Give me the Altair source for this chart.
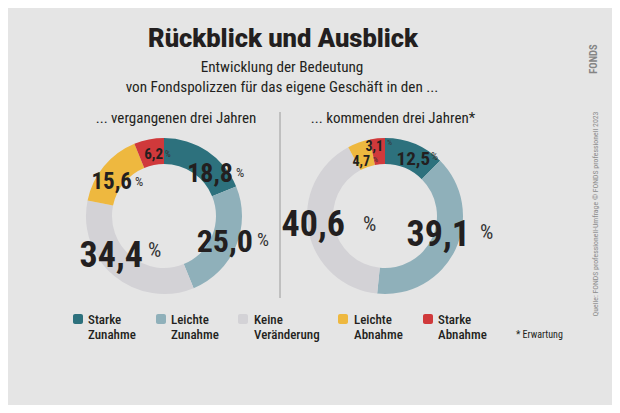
import altair as alt
import pandas as pd

# ---------------- data ----------------
categories = ["Starke Zunahme", "Leichte Zunahme", "Keine Veränderung",
              "Leichte Abnahme", "Starke Abnahme"]
legend_text = ["Starke\nZunahme", "Leichte\nZunahme", "Keine\nVeränderung",
               "Leichte\nAbnahme", "Starke\nAbnahme"]
past_values = [18.8, 25.0, 34.4, 15.6, 6.2]
future_values = [12.5, 39.1, 40.6, 4.7, 3.1]
colors = ["#2d717d", "#8fb0ba", "#d3d2d6", "#eeb83f", "#d0393b"]

title = "Rückblick und Ausblick"
subtitle = ["Entwicklung der Bedeutung",
            "von Fondspolizzen für das eigene Geschäft in den ..."]
panel_titles = ["... vergangenen drei Jahren", "... kommenden drei Jahren*"]
note = "* Erwartung"
source = "Quelle: FONDS professionell-Umfrage © FONDS professionell 2023"
logo = "FONDS"

# ---------------- layout (page pixels) ----------------
M = 8
W, H = 604, 397
BG = "#e5e5e5"
DARK = "#231f20"
NARROW = ("'Noto Sans Condensed', 'Noto Sans ExtraCondensed', 'Roboto Condensed', "
          "'DejaVu Sans Condensed', sans-serif")

centers = [(164, 216), (385, 216)]
inner_r, outer_r = 52, 78

# label layout: number right edge / vertical centre, percent left edge / centre, sizes
past_num = dict(rx=[233, 253, 143, 132, 163], cy=[173, 240, 254, 181, 154],
                fs=[26, 32, 36, 23, 15])
past_pct = dict(lx=[236, 257, 148, 135, 165], my=[173, 240, 251, 182, 154],
                fs=[13, 19, 21, 13, 9])
fut_num = dict(rx=[430, 470, 345, 370, 383], cy=[158, 233, 223, 161, 146],
               fs=[19, 36, 36, 14, 14])
fut_pct = dict(lx=[431, 480, 363, 373, 387], my=[157, 233, 225, 160, 143],
               fs=[11, 21, 21, 8, 8])

leg_sq_x = [73, 156, 238, 338, 423]
leg_tx_x = [88, 171, 254, 354, 438]

xs = alt.Scale(domain=[0, W], range=[0, W], nice=False, zero=False)
ys = alt.Scale(domain=[0, H], range=[0, H], nice=False, zero=False)


def X(f):
    return alt.X(f, type="quantitative", scale=xs, axis=None)


def Y(f):
    return alt.Y(f, type="quantitative", scale=ys, axis=None)


def fmt(v):
    return f"{v:.1f}".replace(".", ",")


layers = []

# donuts
for (cx, cy), vals in zip(centers, [past_values, future_values]):
    d = pd.DataFrame({"cat": categories, "idx": list(range(5)), "value": vals,
                      "cx": cx - M, "cy": cy - M})
    layers.append(
        alt.Chart(d).mark_arc(innerRadius=inner_r, outerRadius=outer_r).encode(
            x=X("cx"), y=Y("cy"),
            theta=alt.Theta("value:Q", stack=True),
            order=alt.Order("idx:Q"),
            color=alt.Color("cat:N", scale=alt.Scale(domain=categories, range=colors),
                            legend=None),
        )
    )

# value labels
for vals, num, pct in [(past_values, past_num, past_pct), (future_values, fut_num, fut_pct)]:
    dn = pd.DataFrame({"t": [fmt(v) for v in vals],
                       "x": [v - M for v in num["rx"]],
                       "y": [c + 0.36 * f - M for c, f in zip(num["cy"], num["fs"])],
                       "fs": num["fs"]})
    layers.append(
        alt.Chart(dn).mark_text(align="right", baseline="alphabetic", font=NARROW,
                                fontWeight="bold", color=DARK).encode(
            x=X("x"), y=Y("y"), text="t:N", size=alt.Size("fs:Q", scale=None))
    )
    dp = pd.DataFrame({"t": ["%"] * 5, "x": [v - M for v in pct["lx"]],
                       "y": [v - M for v in pct["my"]], "fs": pct["fs"]})
    layers.append(
        alt.Chart(dp).mark_text(align="left", baseline="middle", font=NARROW,
                                color="#333333").encode(
            x=X("x"), y=Y("y"), text="t:N", size=alt.Size("fs:Q", scale=None))
    )

# title
dt = pd.DataFrame({"t": [title], "x": [283 - M], "y": [47 - M]})
layers.append(alt.Chart(dt).mark_text(align="center", baseline="alphabetic", font="Roboto",
                                      fontWeight=900, fontSize=25.5, color=DARK).encode(
    x=X("x"), y=Y("y"), text="t:N"))

# subtitle + panel titles
ds = pd.DataFrame({"t": subtitle, "x": [282 - M, 282 - M], "y": [72 - M, 92 - M]})
layers.append(alt.Chart(ds).mark_text(align="center", baseline="alphabetic", font=NARROW,
                                      fontSize=15.2, color=DARK).encode(
    x=X("x"), y=Y("y"), text="t:N"))
dpt = pd.DataFrame({"t": panel_titles, "x": [176 - M, 393 - M], "y": [123 - M, 123 - M]})
layers.append(alt.Chart(dpt).mark_text(align="center", baseline="alphabetic", font=NARROW,
                                       fontSize=15, color=DARK).encode(
    x=X("x"), y=Y("y"), text="t:N"))

# divider
dr = pd.DataFrame({"x": [280 - M], "y": [112 - M], "y2": [298 - M]})
layers.append(alt.Chart(dr).mark_rule(color="#9a9a9a", strokeWidth=1).encode(
    x=X("x"), y=Y("y"), y2="y2:Q"))

# legend
dl = pd.DataFrame({"cat": categories, "t": legend_text,
                   "x": [v - M for v in leg_sq_x], "x2": [v + 10 - M for v in leg_sq_x],
                   "y": [314 - M] * 5, "y2": [324 - M] * 5,
                   "tx": [v - M for v in leg_tx_x], "ty": [323.5 - M] * 5})
layers.append(alt.Chart(dl).mark_rect(cornerRadius=2).encode(
    x=X("x"), x2="x2:Q", y=Y("y"), y2="y2:Q",
    color=alt.Color("cat:N", scale=alt.Scale(domain=categories, range=colors), legend=None)))
layers.append(alt.Chart(dl).mark_text(align="left", baseline="alphabetic", font=NARROW,
                                      fontSize=13, fontWeight=500, lineBreak="\n",
                                      lineHeight=15.5, color=DARK).encode(
    x=X("tx"), y=Y("ty"), text="t:N"))

dnote = pd.DataFrame({"t": [note], "x": [516 - M], "y": [338 - M]})
layers.append(alt.Chart(dnote).mark_text(align="left", baseline="alphabetic", font=NARROW,
                                         fontSize=10, color=DARK).encode(
    x=X("x"), y=Y("y"), text="t:N"))

# vertical source + logo
dsrc = pd.DataFrame({"t": [source], "x": [596 - M], "y": [214 - M]})
layers.append(alt.Chart(dsrc).mark_text(align="center", baseline="middle", angle=270,
                                        font=NARROW, fontSize=7.8, color="#8c8c8c").encode(
    x=X("x"), y=Y("y"), text="t:N"))
dlogo = pd.DataFrame({"t": [logo], "x": [594 - M], "y": [59 - M]})
layers.append(alt.Chart(dlogo).mark_text(align="center", baseline="middle", angle=270,
                                         font=NARROW, fontWeight="bold", fontSize=10.5,
                                         color="#858585").encode(
    x=X("x"), y=Y("y"), text="t:N"))

chart = alt.layer(*layers).properties(
    width=W, height=H, background=BG,
    autosize=alt.AutoSizeParams(type="none"), padding=0,
).configure_view(stroke=None)

chart.save("out.html", embed_options={"renderer": "svg", "actions": False})
